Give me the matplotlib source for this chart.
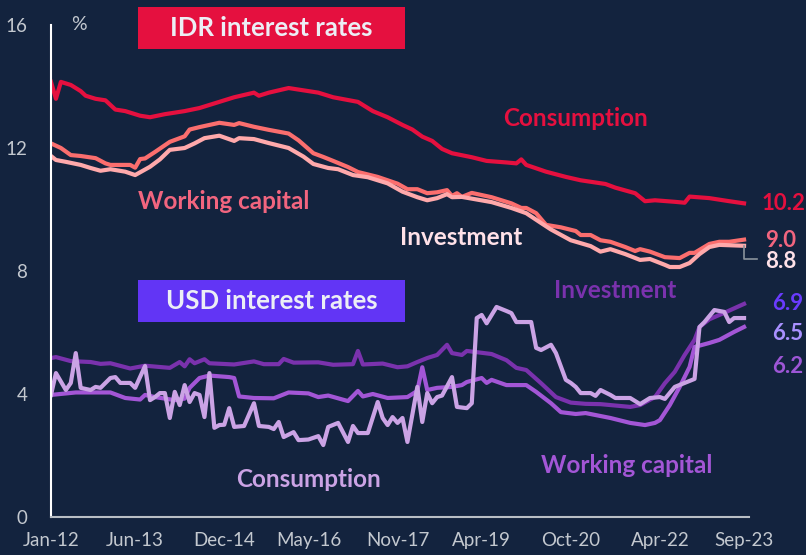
import matplotlib.pyplot as plt
from matplotlib.patches import Rectangle

# months counted from Jan-12 (0) to Sep-23 (140)
tick_pos = [0, 17, 35, 52, 70, 87, 105, 123, 140]
tick_lbl = ["Jan-12", "Jun-13", "Dec-14", "May-16", "Nov-17", "Apr-19", "Oct-20", "Apr-22", "Sep-23"]

idr_cons_m = [0, 1, 2, 4, 6, 7, 9, 11, 13, 15, 18, 20, 23, 27, 30, 33, 37, 41, 42, 44, 48, 50, 54, 57,
              62, 65, 68, 71, 73, 75, 77, 79, 81, 85, 88, 92, 94, 95, 96, 100, 104, 107, 112, 114,
              118, 120, 122, 126, 128, 129, 133, 137, 140]
idr_cons = [14.15, 13.6, 14.15, 14.05, 13.85, 13.7, 13.6, 13.55, 13.25, 13.2, 13.05, 13.0, 13.1, 13.2,
            13.3, 13.45, 13.65, 13.8, 13.7, 13.8, 13.95, 13.9, 13.8, 13.65, 13.5, 13.2, 13.0, 12.75,
            12.6, 12.37, 12.23, 11.97, 11.83, 11.7, 11.58, 11.53, 11.5, 11.63, 11.45, 11.23, 11.06,
            10.95, 10.83, 10.71, 10.53, 10.27, 10.3, 10.25, 10.22, 10.42, 10.37, 10.27, 10.2]

idr_wc_m = [0, 2, 4, 6, 9, 11, 12, 16, 17, 18, 19, 21, 24, 27, 28, 30, 34, 37, 38, 41, 44, 48, 50, 53,
            55, 57, 60, 62, 66, 70, 72, 74, 76, 78, 80, 81, 82, 83, 85, 89, 93, 95, 96, 98, 100, 103,
            106, 107, 109, 111, 113, 116, 118, 119, 121, 124, 127, 129, 130, 133, 135, 137, 140]
idr_wc = [12.15, 12.0, 11.77, 11.74, 11.67, 11.5, 11.45, 11.45, 11.36, 11.64, 11.66, 11.87, 12.2, 12.38,
          12.6, 12.68, 12.82, 12.75, 12.81, 12.69, 12.59, 12.47, 12.25, 11.83, 11.71, 11.58, 11.38,
          11.22, 11.06, 10.84, 10.66, 10.66, 10.53, 10.56, 10.63, 10.44, 10.53, 10.41, 10.54, 10.4,
          10.2, 10.05, 10.05, 9.88, 9.5, 9.42, 9.3, 9.17, 9.17, 9.0, 8.95, 8.78, 8.65, 8.71, 8.63,
          8.45, 8.42, 8.59, 8.59, 8.88, 8.95, 8.95, 9.02]

idr_inv_m = [0, 1, 3, 6, 8, 10, 12, 15, 17, 20, 22, 24, 27, 29, 31, 34, 37, 38, 41, 44, 48, 51, 53, 56,
             58, 61, 64, 68, 71, 74, 76, 78, 80, 81, 83, 89, 93, 96, 99, 101, 105, 109, 111, 113, 116,
             119, 121, 124, 125, 127, 129, 131, 133, 135, 140]
idr_inv = [11.74, 11.61, 11.55, 11.45, 11.35, 11.26, 11.31, 11.23, 11.12, 11.39, 11.63, 11.94, 12.0,
           12.15, 12.32, 12.4, 12.23, 12.32, 12.29, 12.16, 12.0, 11.72, 11.48, 11.35, 11.31, 11.12,
           11.05, 10.85, 10.58, 10.4, 10.3, 10.37, 10.5, 10.4, 10.41, 10.24, 10.05, 9.88, 9.56, 9.35,
           9.0, 8.81, 8.63, 8.71, 8.55, 8.36, 8.39, 8.2, 8.13, 8.13, 8.26, 8.55, 8.78, 8.85, 8.82]

usd_inv_m = [0, 1, 4, 8, 10, 12, 16, 19, 24, 26, 27, 28, 29, 31, 32, 37, 41, 43, 46, 47, 49, 54, 57, 61,
             62, 63, 67, 70, 72, 74, 76, 78, 80, 81, 83, 84, 89, 92, 94, 96, 99, 102, 105, 108, 111,
             117, 119, 122, 124, 126, 128, 130, 131, 133, 136, 140]
usd_inv = [5.17, 5.2, 5.07, 5.04, 4.98, 5.0, 4.83, 4.92, 4.85, 5.04, 4.9, 5.13, 5.0, 5.13, 5.0, 4.96,
           5.06, 4.97, 4.97, 5.14, 5.02, 5.03, 4.95, 4.97, 5.4, 4.96, 4.99, 4.87, 4.9, 5.04, 5.17, 5.27,
           5.6, 5.33, 5.27, 5.4, 5.3, 5.1, 4.85, 4.78, 4.35, 3.9, 3.72, 3.68, 3.67, 3.58, 3.64, 3.9,
           4.35, 4.72, 5.27, 5.76, 6.18, 6.43, 6.64, 6.93]

usd_wc_m = [0, 5, 12, 15, 18, 19, 21, 25, 27, 28, 30, 32, 36, 37, 38, 41, 45, 48, 52, 54, 56, 60, 62, 63,
            65, 68, 72, 74, 75, 76, 78, 81, 83, 84, 87, 88, 89, 92, 96, 98, 101, 103, 106, 108, 113,
            117, 120, 122, 123, 125, 127, 129, 130, 133, 135, 138, 140]
usd_wc = [3.97, 4.05, 4.05, 3.87, 3.82, 3.97, 3.9, 3.8, 3.85, 4.2, 4.52, 4.6, 4.55, 4.52, 3.92, 3.87,
          3.86, 4.05, 4.02, 3.9, 3.95, 3.77, 4.1, 3.92, 4.0, 3.87, 3.9, 4.1, 4.87, 4.13, 4.2, 4.23,
          4.29, 4.39, 4.52, 4.36, 4.46, 4.29, 4.29, 4.07, 3.7, 3.41, 3.35, 3.38, 3.22, 3.06, 2.99,
          3.06, 3.15, 3.64, 4.23, 4.88, 5.53, 5.66, 5.76, 6.02, 6.18]

usd_cons_m = [0, 1, 3, 4, 5, 6, 8, 9, 10, 12, 13, 14, 16, 17, 19, 20, 21, 22, 23, 24, 25, 26, 27, 28,
              29, 30, 31, 32, 33, 34, 35, 36, 37, 39, 41, 42, 44, 45, 46, 47, 49, 50, 52, 54, 55, 56,
              58, 60, 61, 62, 64, 66, 67, 68, 69, 70, 71, 72, 74, 75, 76, 77, 78, 79, 81, 82, 84, 85,
              86, 87, 88, 90, 92, 93, 94, 97, 98, 99, 101, 102, 104, 105, 106, 107, 109, 110, 111, 113,
              114, 117, 119, 121, 123, 124, 126, 128, 130, 131, 132, 134, 136, 137, 138, 140]
usd_cons = [3.97, 4.68, 4.13, 4.36, 5.33, 4.2, 4.13, 4.23, 4.2, 4.52, 4.55, 4.36, 4.36, 4.2, 4.91, 3.8,
            3.9, 4.03, 4.03, 3.22, 4.07, 3.64, 4.29, 3.74, 4.03, 3.97, 3.25, 4.68, 2.9, 2.99, 3.0, 3.54,
            2.93, 2.96, 3.7, 2.96, 2.93, 2.86, 3.09, 2.6, 2.76, 2.5, 2.52, 2.63, 2.34, 2.93, 3.06, 2.44,
            2.96, 2.73, 2.73, 3.74, 3.22, 2.99, 3.25, 3.06, 3.22, 2.44, 4.23, 3.09, 4.03, 3.7, 3.9,
            3.95, 4.55, 3.58, 3.54, 3.7, 6.47, 6.57, 6.3, 6.83, 6.7, 6.63, 6.34, 6.34, 5.5, 5.43, 5.6,
            5.33, 4.46, 4.36, 4.23, 4.03, 4.03, 3.94, 4.13, 3.97, 3.87, 3.87, 3.67, 3.87, 3.9, 3.84,
            4.23, 4.36, 4.49, 6.18, 6.34, 6.73, 6.67, 6.34, 6.47, 6.47]

bg = "#13233e"
grey = "#c3c8cf"
red = "#e5103f"
salmon = "#fb6e6e"
pink = "#ffa9ab"
dpurple = "#7a32ad"
mpurple = "#a356d6"
lpurple = "#cba3e5"

plt.rcParams["font.family"] = ["Lato", "DejaVu Sans"]

fig = plt.figure(figsize=(8.06, 5.55), dpi=100, facecolor=bg)
ax = fig.add_axes([51 / 806, 1 - 517 / 555, 698 / 806, 492 / 555], facecolor=bg)

ax.plot(idr_cons_m, idr_cons, color=red, lw=3)
ax.plot(idr_wc_m, idr_wc, color=salmon, lw=3)
ax.plot(idr_inv_m, idr_inv, color=pink, lw=3)
ax.plot(usd_inv_m, usd_inv, color=dpurple, lw=3)
ax.plot(usd_wc_m, usd_wc, color=mpurple, lw=3)
ax.plot(usd_cons_m, usd_cons, color=lpurple, lw=3)

ax.set_xlim(0, 141)
ax.set_ylim(0, 16)
ax.set_xticks(tick_pos)
ax.set_xticklabels(tick_lbl)
ax.set_yticks([0, 4, 8, 12, 16])
ax.tick_params(length=0, colors=grey, labelsize=13.5)
ax.tick_params(axis="y", pad=17)
ax.tick_params(axis="x", pad=11)
for s in ["top", "right"]:
    ax.spines[s].set_visible(False)
ax.spines["left"].set_color("white")
ax.spines["left"].set_linewidth(1.5)
ax.spines["bottom"].set_color("#b9bec5")
ax.spines["bottom"].set_linewidth(1.5)

fig.text(79 / 806, 1 - 24 / 555, "%", color=grey, fontsize=14, ha="center", va="center")

# header boxes
for y0, col, txt in [(49, red, "IDR interest rates"), (322, "#6235f5", "USD interest rates")]:
    fig.patches.append(Rectangle((138 / 806, 1 - y0 / 555), 267 / 806, 42 / 555,
                                 transform=fig.transFigure, facecolor=col, edgecolor="none"))
    fig.text(271.5 / 806, 1 - (y0 - 21) / 555, txt, color="#eceef5", fontsize=18.5,
             fontweight="bold", ha="center", va="center")

# series labels
lab = dict(fontsize=17.5, fontweight="bold", ha="center", va="center")
ax.text(106, 12.95, "Consumption", color=red, **lab)
ax.text(34.8, 10.25, "Working capital", color="#f2657f", **lab)
ax.text(82.8, 9.1, "Investment", color="#ffe1e8", **lab)
ax.text(113.9, 7.35, "Investment", color=dpurple, **lab)
ax.text(116.3, 1.69, "Working capital", color=mpurple, **lab)
ax.text(52.1, 1.21, "Consumption", color=lpurple, **lab)

# leader line for investment end value
ax.plot([idr_inv_m[-1], idr_inv_m[-1], idr_inv_m[-1] + 2.6],
        [idr_inv[-1], idr_inv[-1] - 0.43, idr_inv[-1] - 0.43],
        color="#8a939c", lw=1.2, clip_on=False)

end = dict(fontsize=16, fontweight="bold", ha="left", va="center", clip_on=False)
ax.text(143.6, 10.18, "%.1f" % idr_cons[-1], color=red, **end)
ax.text(144.3, 8.98, "%.1f" % idr_wc[-1], color="#f2657f", **end)
ax.text(144.3, 8.3, "%.1f" % idr_inv[-1], color="#ffe1e8", **end)
ax.text(145.6, 6.93, "%.1f" % usd_inv[-1], color="#6a3bff", **end)
ax.text(145.6, 5.98, "%.1f" % usd_cons[-1], color="#a990ff", **end)
ax.text(145.6, 4.88, "%.1f" % usd_wc[-1], color="#9d56d6", **end)

plt.savefig("out.png", dpi=100, facecolor=bg)
